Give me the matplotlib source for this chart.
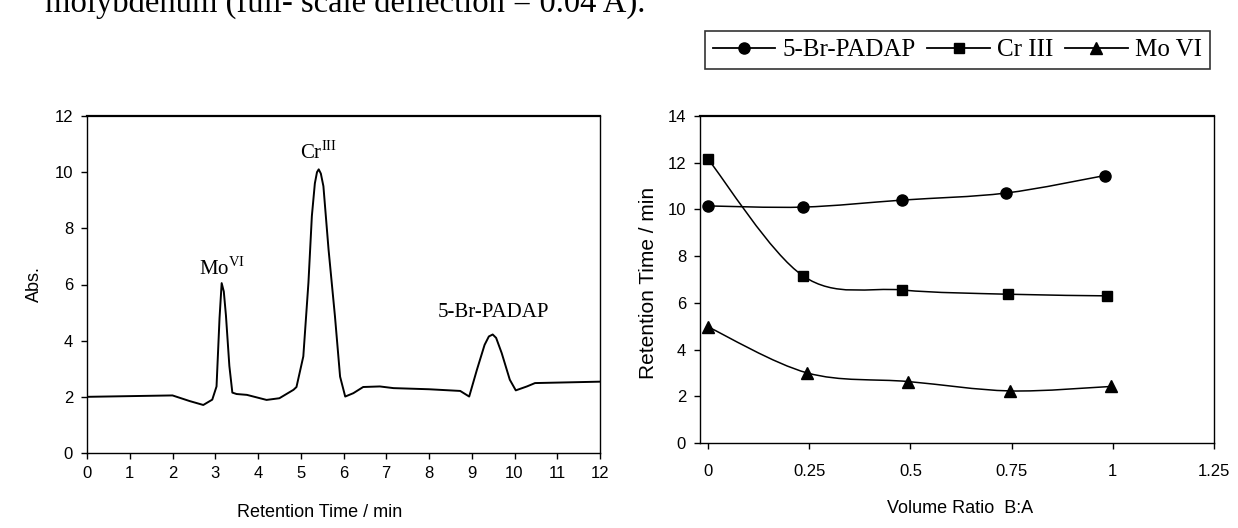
import numpy as np
import matplotlib
matplotlib.use("Agg")
import matplotlib.pyplot as plt
from matplotlib.path import Path
from matplotlib.patches import PathPatch
from matplotlib.lines import Line2D

# chromatogram trace (left panel)
ret_time = [0, 2.0, 2.1, 2.4, 2.72, 2.93, 3.03, 3.1, 3.15, 3.2,
            3.25, 3.33, 3.4, 3.5, 3.74, 4.2, 4.5, 4.83, 4.9, 5.06,
            5.18, 5.26, 5.33, 5.38, 5.42, 5.47, 5.53, 5.65, 5.8, 5.92,
            6.04, 6.23, 6.46, 6.85, 7.17, 8.0, 8.73, 8.94, 9.12, 9.3,
            9.4, 9.49, 9.57, 9.7, 9.89, 10.03, 10.29, 10.48, 12.0]
absorb = [2.0, 2.05, 2.0, 1.85, 1.71, 1.9, 2.37, 4.8, 6.05, 5.75,
          4.9, 3.1, 2.15, 2.1, 2.07, 1.89, 1.95, 2.25, 2.35, 3.44,
          6.07, 8.44, 9.6, 10.0, 10.1, 9.95, 9.5, 7.25, 4.87, 2.72,
          2.01, 2.13, 2.35, 2.37, 2.31, 2.27, 2.21, 2.01, 2.96, 3.85,
          4.15, 4.22, 4.1, 3.56, 2.61, 2.23, 2.37, 2.49, 2.54]

# retention time vs volume ratio (right panel)
ratio_padap = [0, 0.235, 0.48, 0.735, 0.98]
rt_padap = [10.15, 10.1, 10.4, 10.7, 11.45]
ratio_cr = [0, 0.235, 0.48, 0.74, 0.985]
rt_cr = [12.15, 7.15, 6.55, 6.37, 6.3]
ratio_mo = [0, 0.245, 0.495, 0.745, 0.995]
rt_mo = [4.97, 3.0, 2.63, 2.23, 2.42]

series_labels = ["5-Br-PADAP", "Cr III", "Mo VI"]

plt.rcParams['font.family'] = ['Liberation Sans', 'DejaVu Sans']
plt.rcParams['mathtext.fontset'] = 'custom'
plt.rcParams['mathtext.rm'] = 'Liberation Serif'
serif = ['Liberation Serif', 'DejaVu Serif']


def smooth_path(x, y):
    # excel-like smoothed line: cubic bezier with catmull-rom control points
    pts = np.column_stack([x, y]).astype(float)
    verts = [pts[0]]
    codes = [Path.MOVETO]
    n = len(pts)
    for i in range(n - 1):
        p0 = pts[i - 1] if i > 0 else pts[i]
        p1 = pts[i]
        p2 = pts[i + 1]
        p3 = pts[i + 2] if i + 2 < n else pts[i + 1]
        verts += [p1 + (p2 - p0) / 6.0, p2 - (p3 - p1) / 6.0, p2]
        codes += [Path.CURVE4] * 3
    return Path(verts, codes)


fig = plt.figure(figsize=(12.38, 5.28), dpi=100)

# top caption, cut off by the page edge as in the scan
fig.text(45 / 1238, 1 - 12 / 528, "molybdenum (full- scale deflection = 0.04 A).",
         family=serif, fontsize=23.5, va='baseline', ha='left')

# ---- left: chromatogram
ax1 = fig.add_axes([87 / 1238, 75 / 528, 513 / 1238, 337 / 528])
ax1.plot(ret_time, absorb, color='black', linewidth=1.4)
ax1.set_xlim(0, 12)
ax1.set_ylim(0, 12)
ax1.set_xticks(range(0, 13))
ax1.set_yticks(range(0, 13, 2))
ax1.tick_params(axis='both', direction='out', length=4, width=1, labelsize=12)
ax1.tick_params(axis='x', pad=5)
ax1.tick_params(axis='y', pad=6)
for s in ax1.spines.values():
    s.set_linewidth(1.0)
ax1.spines['top'].set_linewidth(1.6)
ax1.set_xlabel("Retention Time / min", fontsize=13)
ax1.set_ylabel("Abs.", fontsize=13)
ax1.xaxis.set_label_coords(0.454, -0.151)
ax1.yaxis.set_label_coords(-0.086, 0.5)

ax1.text(3.15, 6.15, r"Mo$^{\mathrm{VI}}$", family=serif, fontsize=15, ha='center', va='bottom')
ax1.text(5.4, 10.3, r"Cr$^{\mathrm{III}}$", family=serif, fontsize=15, ha='center', va='bottom')
ax1.text(9.5, 4.65, "5-Br-PADAP", family=serif, fontsize=15, ha='center', va='bottom')

# ---- right: retention time vs ratio
ax2 = fig.add_axes([700 / 1238, 85 / 528, 514 / 1238, 327 / 528])
ax2.set_xlim(-0.02, 1.25)
ax2.set_ylim(0, 14)

markers = ['o', 's', '^']
msizes = [8, 7.5, 8]
data = [(ratio_padap, rt_padap), (ratio_cr, rt_cr), (ratio_mo, rt_mo)]
handles = []
for (xs, ys), m, ms in zip(data, markers, msizes):
    ax2.add_patch(PathPatch(smooth_path(xs, ys), facecolor='none',
                            edgecolor='black', linewidth=1.1))
    ax2.plot(xs, ys, linestyle='none', marker=m, markersize=ms,
             color='black', clip_on=False)
    handles.append(Line2D([], [], color='black', linewidth=1.3,
                          marker=m, markersize=ms))

ax2.set_xticks([0, 0.25, 0.5, 0.75, 1, 1.25])
ax2.set_xticklabels(["0", "0.25", "0.5", "0.75", "1", "1.25"])
ax2.set_yticks(range(0, 15, 2))
ax2.tick_params(axis='both', direction='out', length=4, width=1, labelsize=12)
ax2.tick_params(axis='x', pad=11)
ax2.tick_params(axis='y', pad=6)
for s in ax2.spines.values():
    s.set_linewidth(1.0)
ax2.spines['top'].set_linewidth(1.6)
ax2.set_xlabel("Volume Ratio  B:A", fontsize=13)
ax2.set_ylabel("Retention Time / min", fontsize=15)
ax2.xaxis.set_label_coords(0.506, -0.174)
ax2.yaxis.set_label_coords(-0.082, 0.49)

leg = fig.legend(handles, series_labels, ncol=3, loc='center',
                 bbox_to_anchor=(957.5 / 1238, 1 - 50 / 528),
                 prop={'family': serif, 'size': 18},
                 frameon=True, fancybox=False, edgecolor='black',
                 handlelength=2.5, handletextpad=0.3, columnspacing=0.45,
                 borderpad=0.3, borderaxespad=0)
leg.get_frame().set_linewidth(1.2)

fig.savefig("out.png", dpi=100)
